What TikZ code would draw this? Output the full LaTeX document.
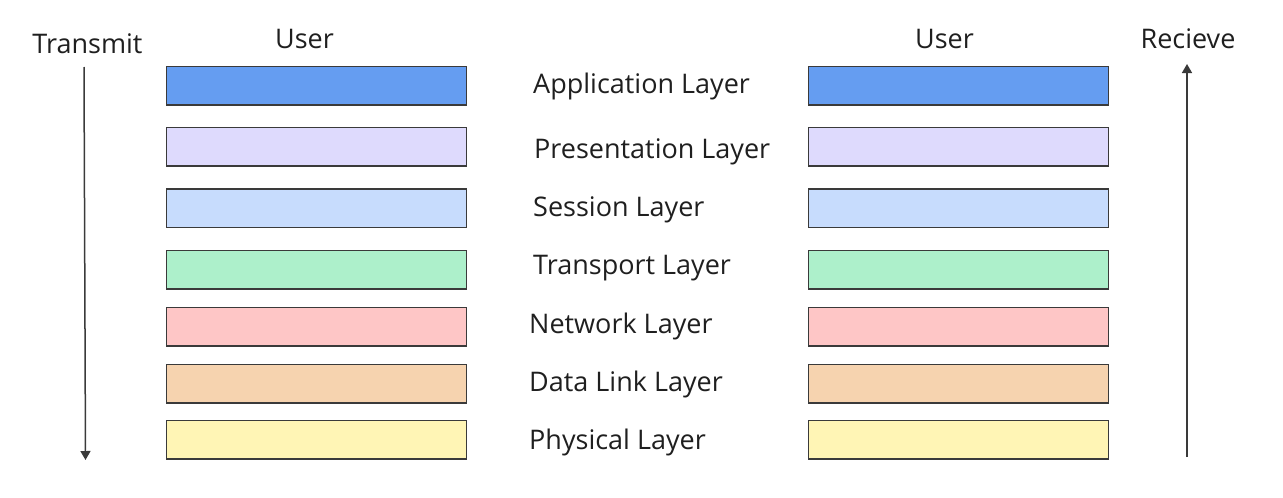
\documentclass[tikz,border=0pt]{standalone}
\usepackage{fontspec}
\setmainfont{Open Sans}
\usetikzlibrary{arrows.meta}
\definecolor{cA}{HTML}{659DF1}
\definecolor{cP}{HTML}{DEDAFD}
\definecolor{cS}{HTML}{C7DCFD}
\definecolor{cT}{HTML}{ADF0CB}
\definecolor{cN}{HTML}{FEC6C6}
\definecolor{cD}{HTML}{F6D3AF}
\definecolor{cY}{HTML}{FFF5B5}
\definecolor{edge}{HTML}{3A3A3A}
\tikzset{
  layerbox/.style={draw=edge, line width=1.5pt, minimum width=300pt, minimum height=38.5pt, inner sep=0pt, anchor=north west},
  lbl/.style={font=\fontsize{27}{30}\selectfont, text=black!88, inner sep=0pt, anchor=west},
  flow/.style={draw=edge, line width=1.5pt, -{Triangle[length=9pt,width=10pt]}}
}
\begin{document}
\begin{tikzpicture}[x=1pt,y=-1pt]
\useasboundingbox (0,0) rectangle (1283,498);
\foreach \n/\c/\t in {1/cA/65.5,2/cP/126.5,3/cS/188,4/cT/249.5,5/cN/306.5,6/cD/363.5,7/cY/419.5}{
  \node[layerbox, fill=\c] (L\n) at (165.5,\t) {};
  \node[layerbox, fill=\c] (R\n) at (807.5,\t) {};
}
\node[lbl] (t1) at (533,86) {Application Layer};
\node[lbl] (t2) at (534,152) {Presentation Layer};
\node[lbl] (t3) at (533,210) {Session Layer};
\node[lbl] (t4) at (533,268) {Transport Layer};
\node[lbl] (t5) at (529,326) {Network Layer};
\node[lbl] (t6) at (529,384) {Data Link Layer};
\node[lbl] (t7) at (529,442) {Physical Layer};
\node[lbl, anchor=center] (ul) at (304.5,39) {User};
\node[lbl, anchor=center] (ur) at (944.5,39) {User};
\node[lbl, anchor=center] (tx) at (87.5,44) {Transmit};
\node[lbl, anchor=center] (rx) at (1188,39) {Recieve};
\coordinate (a1) at (84,67);
\coordinate (a2) at (85.5,460);
\coordinate (b1) at (1187,457);
\coordinate (b2) at (1187,64);
\draw[flow] (a1) -- (a2);
\draw[flow] (b1) -- (b2);
\end{tikzpicture}
\end{document}
